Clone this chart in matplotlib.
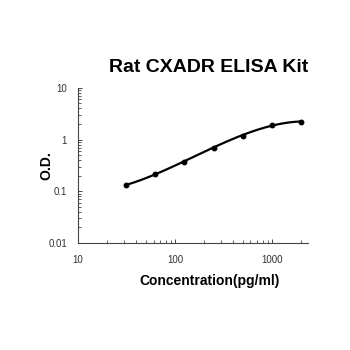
import numpy as np
import matplotlib
matplotlib.use("Agg")
import matplotlib.pyplot as plt
from matplotlib.ticker import LogLocator, FixedLocator, NullFormatter, FixedFormatter

plt.rcParams["font.family"] = ["Liberation Sans", "DejaVu Sans"]

conc = [31.25, 62.5, 125, 250, 500, 1000, 2000]
od = [0.13, 0.22, 0.375, 0.70, 1.19, 1.95, 2.2]
title = "Rat CXADR ELISA Kit"
xlabel = "Concentration(pg/ml)"
ylabel = "O.D."
xticks = [10, 100, 1000]
xticklabels = ["10", "100", "1000"]
yticks = [0.01, 0.1, 1, 10]
yticklabels = ["0.01", "0.1", "1", "10"]

fig = plt.figure(figsize=(3.5, 3.5), dpi=100)
ax = fig.add_axes([0.223, 0.306, 0.657, 0.443])

lx = np.log10(conc)
ly = np.log10(od)
coef = np.polyfit(lx, ly, 3)
xs = np.linspace(lx[0], lx[-1], 200)
ax.plot(10**xs, 10**np.polyval(coef, xs), color="black", lw=1.6)
ax.plot(conc, od, "o", color="black", ms=3.2)

ax.set_xscale("log")
ax.set_yscale("log")
ax.set_xlim(10, 2350)
ax.set_ylim(0.01, 10)
ax.spines["top"].set_visible(False)
ax.spines["right"].set_visible(False)
for s in ("left", "bottom"):
    ax.spines[s].set_color("#444444")
    ax.spines[s].set_linewidth(0.8)

ax.xaxis.set_major_locator(FixedLocator(xticks))
ax.xaxis.set_major_formatter(FixedFormatter(xticklabels))
ax.yaxis.set_major_locator(FixedLocator(yticks))
ax.yaxis.set_major_formatter(FixedFormatter(yticklabels))
ax.xaxis.set_minor_locator(LogLocator(base=10, subs=np.arange(2, 10)))
ax.yaxis.set_minor_locator(LogLocator(base=10, subs=np.arange(2, 10)))
ax.xaxis.set_minor_formatter(NullFormatter())
ax.yaxis.set_minor_formatter(NullFormatter())
ax.tick_params(which="both", direction="in", colors="#444444", labelcolor="#333333",
               labelsize=7)
ax.tick_params(which="major", length=3, width=0.7, pad=9)
ax.tick_params(which="minor", length=2, width=0.6)
ax.tick_params(axis="y", which="major", pad=8)

fig.text(0.597, 0.806, title, ha="center", va="center", fontsize=14, fontweight="bold")
ax.set_xlabel(xlabel, fontsize=10, fontweight="bold", labelpad=6)
ax.xaxis.label.set_x(0.57)
ax.set_ylabel(ylabel, fontsize=10, fontweight="bold", labelpad=-4)

fig.savefig("out.png", dpi=100)
